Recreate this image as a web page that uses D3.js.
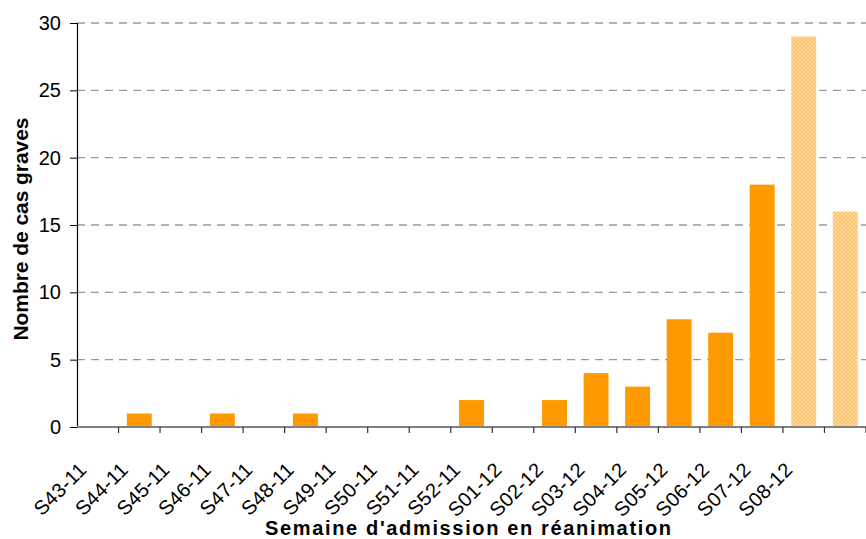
<!DOCTYPE html>
<html>
<head>
<meta charset="utf-8">
<script src="https://cdn.jsdelivr.net/npm/d3@7"></script>
<style>
  html, body { margin: 0; padding: 0; background: #fff; }
  svg { display: block; font-family: "Liberation Sans", Arial, sans-serif; }
</style>
</head>
<body>
<svg id="chart" width="866" height="539"></svg>
<script>
// Weekly counts of severe cases admitted to intensive care
const categories = ["S43-11","S44-11","S45-11","S46-11","S47-11","S48-11","S49-11","S50-11","S51-11","S52-11",
                    "S01-12","S02-12","S03-12","S04-12","S05-12","S06-12","S07-12","S08-12","S09-12"];
const tickLabels = ["S43-11","S44-11","S45-11","S46-11","S47-11","S48-11","S49-11","S50-11","S51-11","S52-11",
                    "S01-12","S02-12","S03-12","S04-12","S05-12","S06-12","S07-12","S08-12",""];
const cases = [0,1,0,1,0,1,0,0,0,2,0,2,4,3,8,7,18,29,16];
// Last weeks are provisional (data not yet consolidated)
const provisional = [false,false,false,false,false,false,false,false,false,false,
                     false,false,false,false,false,false,false,true,true];
const yTicks = [0,5,10,15,20,25,30];

const svg = d3.select("#chart");
const margin = {top: 23, right: 0, bottom: 112, left: 77};
const W = 866, H = 539;
const innerW = W - margin.left - margin.right;
const innerH = H - margin.top - margin.bottom;

const defs = svg.append("defs");
const pat = defs.append("pattern")
  .attr("id", "provPattern")
  .attr("patternUnits", "userSpaceOnUse")
  .attr("width", 4).attr("height", 4);
pat.append("rect").attr("width", 4).attr("height", 4).attr("fill", "#FFD89C");
pat.append("rect").attr("x", 0).attr("y", 0).attr("width", 2).attr("height", 2).attr("fill", "#FFC26A");
pat.append("rect").attr("x", 2).attr("y", 2).attr("width", 2).attr("height", 2).attr("fill", "#FFC26A");

const x = d3.scaleBand().domain(categories).range([0, innerW]).paddingInner(0.4).paddingOuter(0.2);
const y = d3.scaleLinear().domain([0, 30]).range([innerH, 0]);

const g = svg.append("g").attr("transform", `translate(${margin.left},${margin.top})`);

// dashed horizontal gridlines
g.append("g").selectAll("line")
  .data(yTicks.filter(d => d > 0))
  .join("line")
  .attr("x1", 0).attr("x2", innerW)
  .attr("y1", d => y(d)).attr("y2", d => y(d))
  .attr("stroke", "#999").attr("stroke-width", 1.3)
  .attr("stroke-dasharray", "8,6");

// bars
g.append("g").selectAll("rect")
  .data(categories.map((c, i) => ({c, v: cases[i], p: provisional[i]})))
  .join("rect")
  .attr("x", d => x(d.c))
  .attr("width", x.bandwidth())
  .attr("y", d => y(d.v))
  .attr("height", d => y(0) - y(d.v))
  .attr("fill", d => d.p ? "url(#provPattern)" : "#FF9900");

// y axis
const yAxis = g.append("g")
  .call(d3.axisLeft(y).tickValues(yTicks).tickSize(7).tickPadding(9));
yAxis.select(".domain").attr("stroke", "#000").attr("stroke-width", 1.2);
yAxis.selectAll(".tick line").attr("stroke", "#000");
yAxis.selectAll("text").attr("font-size", 20).attr("fill", "#000")
  .attr("font-family", "Liberation Sans, Arial, sans-serif");

// x axis: ticks at category boundaries
const step = x.step();
const boundaries = d3.range(categories.length + 1).map(i => i * step);
const xa = g.append("g").attr("transform", `translate(0,${innerH})`);
xa.append("line").attr("x1", 0).attr("x2", innerW).attr("y1", 0).attr("y2", 0)
  .attr("stroke", "#808080").attr("stroke-width", 2);
xa.selectAll("line.tk").data(boundaries.slice(1)).join("line").attr("class", "tk")
  .attr("x1", d => d).attr("x2", d => d).attr("y1", 0).attr("y2", 6)
  .attr("stroke", "#333").attr("stroke-width", 1.2);

xa.selectAll("text.lbl").data(categories).join("text").attr("class", "lbl")
  .attr("transform", (d, i) => `translate(${x(d) + x.bandwidth() / 2 - 10},${44}) rotate(-45)`)
  .attr("text-anchor", "end")
  .attr("font-size", 20)
  .attr("letter-spacing", 0.3)
  .attr("fill", "#000")
  .text((d, i) => tickLabels[i]);

// axis titles
svg.append("text")
  .attr("x", 468).attr("y", 535)
  .attr("text-anchor", "middle")
  .attr("font-size", 20).attr("font-weight", "bold")
  .attr("textLength", 406).attr("lengthAdjust", "spacing")
  .text("Semaine d'admission en réanimation");

svg.append("text")
  .attr("transform", "translate(28,229) rotate(-90)")
  .attr("text-anchor", "middle")
  .attr("font-size", 21).attr("font-weight", "bold")
  .attr("textLength", 223).attr("lengthAdjust", "spacing")
  .text("Nombre de cas graves");
</script>
</body>
</html>
